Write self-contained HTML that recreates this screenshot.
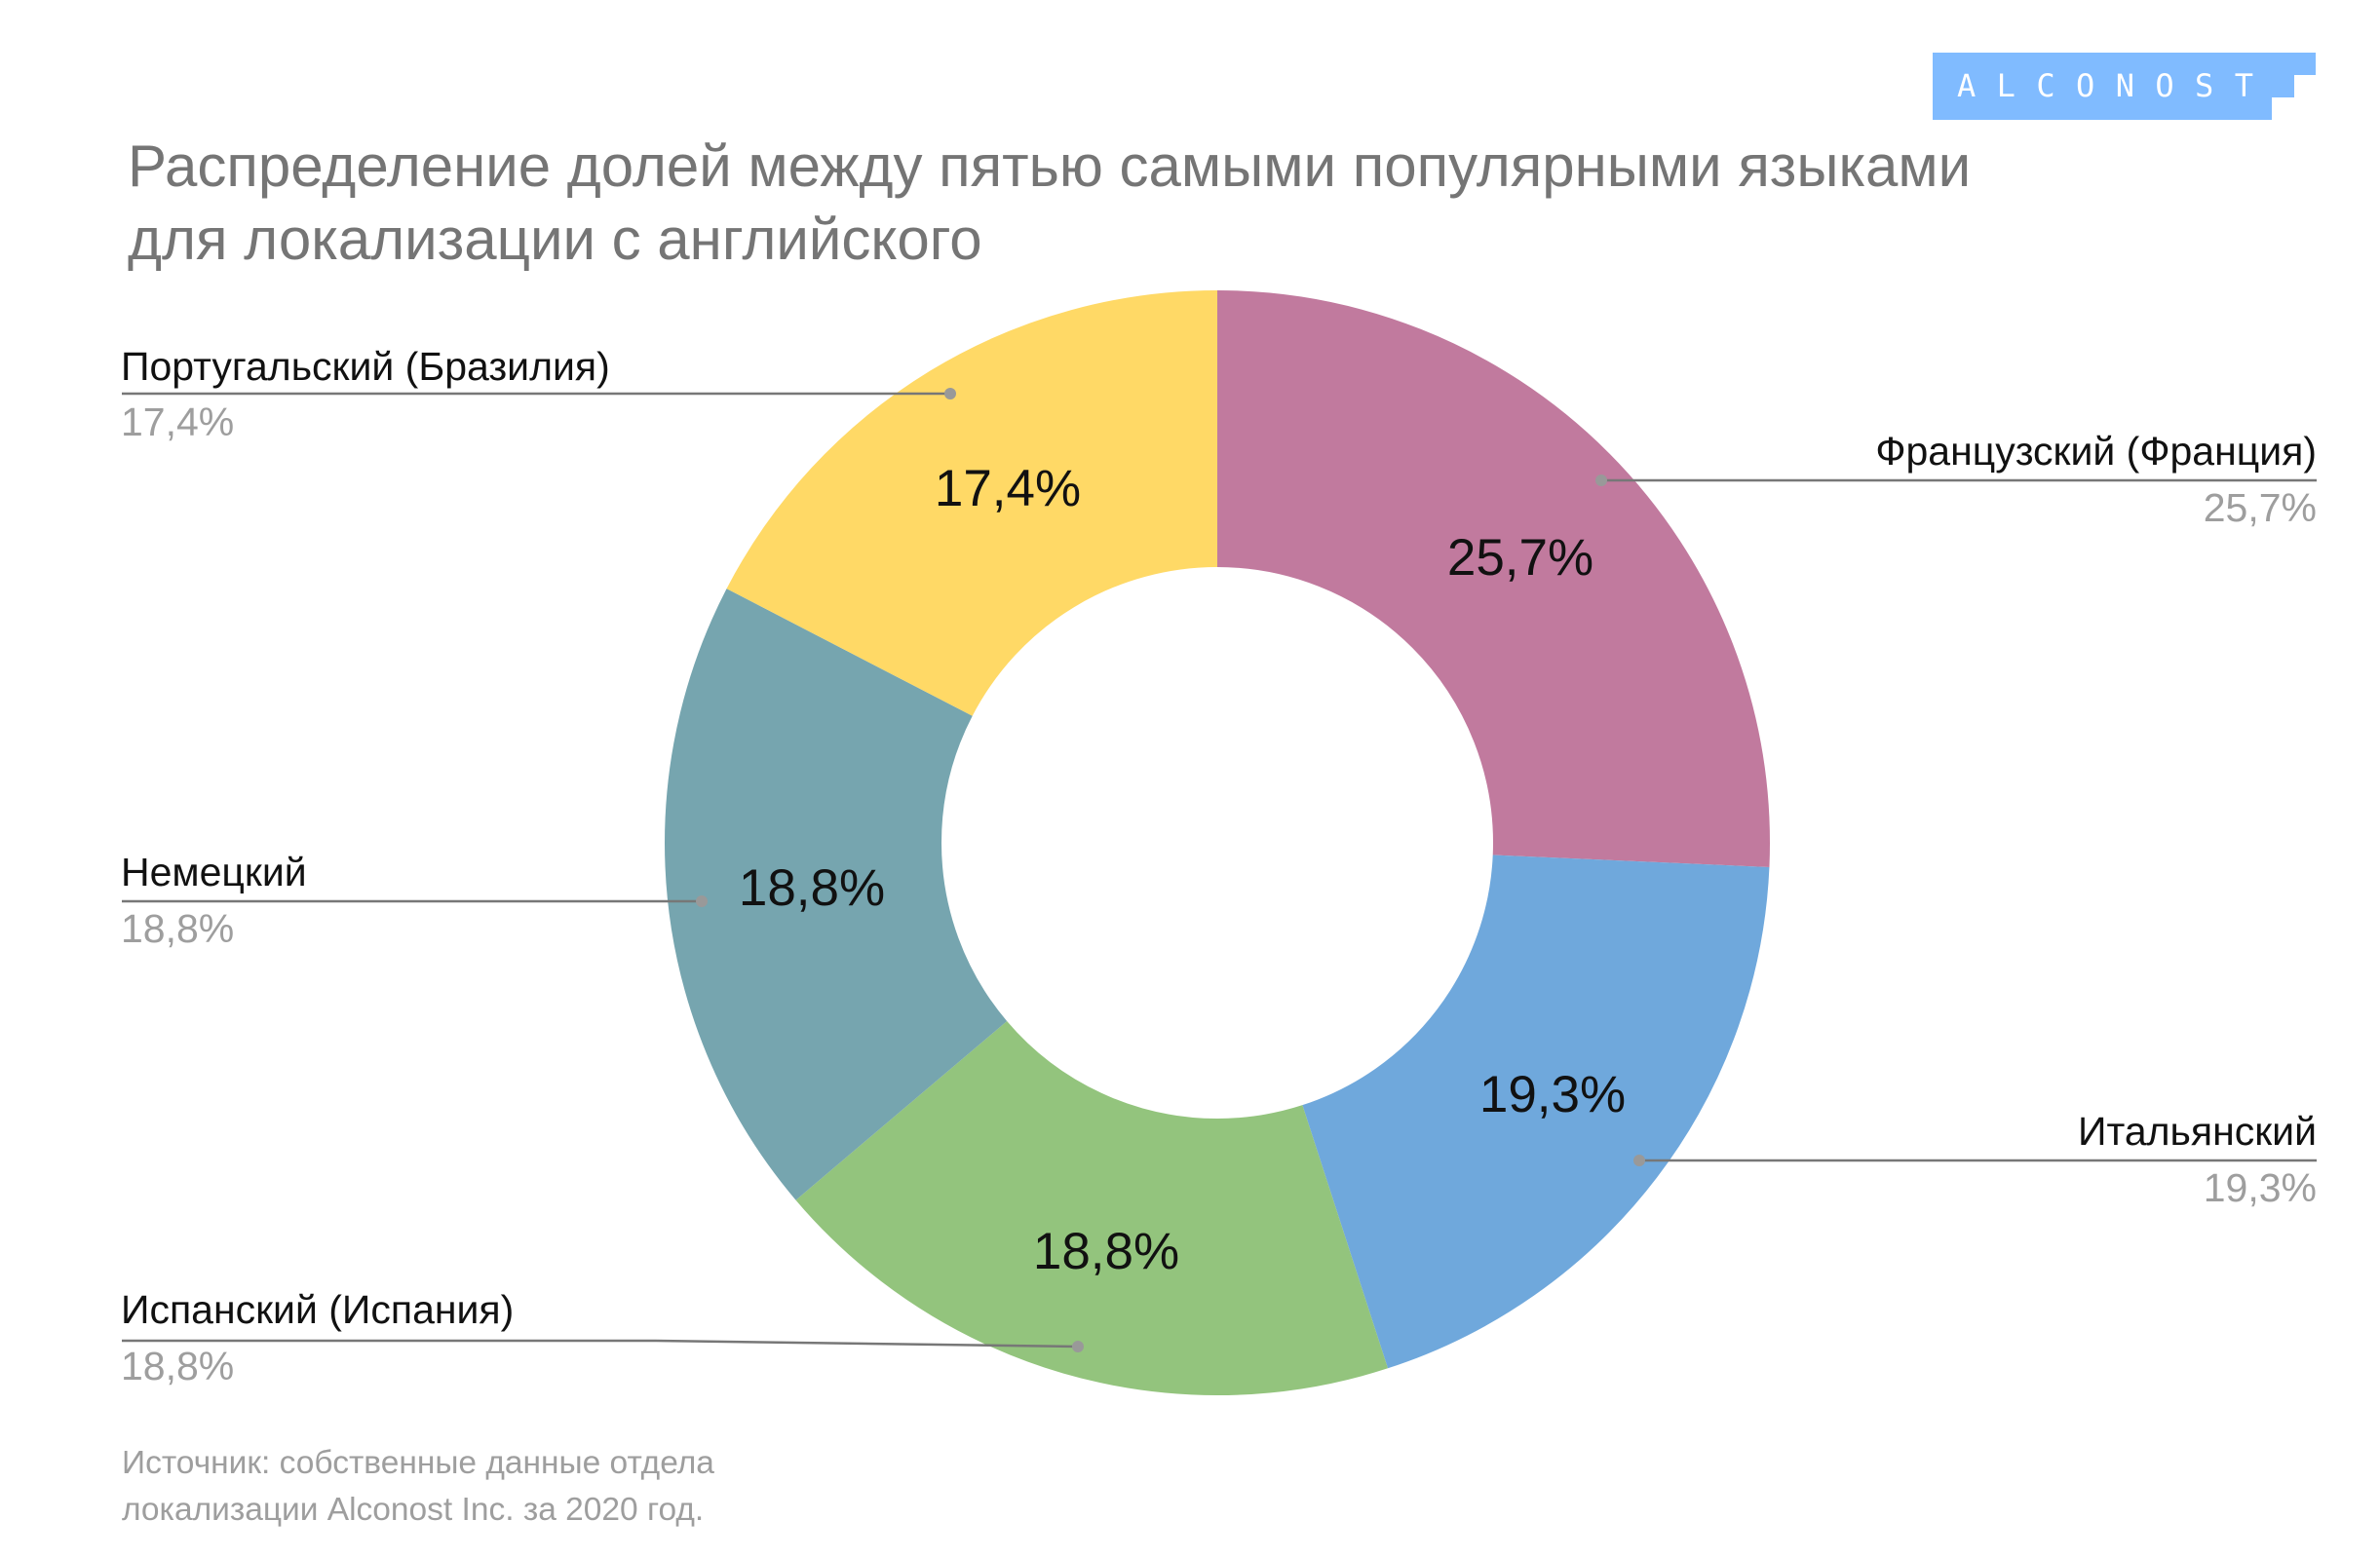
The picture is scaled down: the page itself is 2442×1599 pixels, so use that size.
<!DOCTYPE html>
<html><head><meta charset="utf-8"><style>
html,body{margin:0;padding:0;background:#fff}
svg{display:block}
</style></head><body>
<svg width="2442" height="1599" viewBox="0 0 2442 1599" xmlns="http://www.w3.org/2000/svg" font-family="Liberation Sans, DejaVu Sans, sans-serif">
<rect width="2442" height="1599" fill="#fff"/>
<path d="M1983 54 H2376 V77 H2354 V100 H2331 V123 H1983 Z" fill="#80bbff"/>
<text x="2008" y="99" font-size="32" fill="#fff" font-family="DejaVu Sans Mono, monospace" textLength="304" lengthAdjust="spacing">ALCONOST</text>
<text x="131" y="191" font-size="60" fill="#757575">Распределение долей между пятью самыми популярными языками</text>
<text x="131" y="266" font-size="60" fill="#757575">для локализации с английского</text>
<g transform="rotate(-90 1249 865)" fill="none" stroke-width="284">
<circle cx="1249" cy="865" r="425" stroke="#c17a9e" stroke-dasharray="686.28 2670.35" stroke-dashoffset="0"/>
<circle cx="1249" cy="865" r="425" stroke="#6fa8dc" stroke-dasharray="515.38 2670.35" stroke-dashoffset="-686.28"/>
<circle cx="1249" cy="865" r="425" stroke="#93c47d" stroke-dasharray="502.03 2670.35" stroke-dashoffset="-1201.66"/>
<circle cx="1249" cy="865" r="425" stroke="#76a5af" stroke-dasharray="502.03 2670.35" stroke-dashoffset="-1703.69"/>
<circle cx="1249" cy="865" r="425" stroke="#ffd966" stroke-dasharray="464.64 2670.35" stroke-dashoffset="-2205.72"/>
</g>
<g font-size="53" fill="#111" text-anchor="middle">
<text x="1034" y="519">17,4%</text>
<text x="1560" y="590">25,7%</text>
<text x="833" y="929">18,8%</text>
<text x="1593" y="1141">19,3%</text>
<text x="1135" y="1302">18,8%</text>
</g>
<g stroke="#777" stroke-width="2.5" fill="none">
<line x1="125" y1="404" x2="975" y2="404"/>
<line x1="125" y1="925" x2="720" y2="925"/>
<polyline points="125,1376 673,1376 1106,1382"/>
<line x1="1643" y1="493" x2="2377" y2="493"/>
<line x1="1682" y1="1191" x2="2377" y2="1191"/>
</g>
<g fill="#999">
<circle cx="975" cy="404" r="6"/>
<circle cx="720" cy="925" r="6"/>
<circle cx="1106" cy="1382" r="6"/>
<circle cx="1643" cy="493" r="6"/>
<circle cx="1682" cy="1191" r="6"/>
</g>
<g font-size="41">
<text x="124" y="390" fill="#111">Португальский (Бразилия)</text>
<text x="124" y="447" fill="#9e9e9e">17,4%</text>
<text x="124" y="909" fill="#111">Немецкий</text>
<text x="124" y="967" fill="#9e9e9e">18,8%</text>
<text x="124" y="1358" fill="#111">Испанский (Испания)</text>
<text x="124" y="1416" fill="#9e9e9e">18,8%</text>
<text x="2377" y="477" fill="#111" text-anchor="end">Французский (Франция)</text>
<text x="2377" y="535" fill="#9e9e9e" text-anchor="end">25,7%</text>
<text x="2377" y="1175" fill="#111" text-anchor="end">Итальянский</text>
<text x="2377" y="1233" fill="#9e9e9e" text-anchor="end">19,3%</text>
</g>
<g font-size="33.5" fill="#9e9e9e">
<text x="125" y="1512">Источник: собственные данные отдела</text>
<text x="125" y="1560">локализации Alconost Inc. за 2020 год.</text>
</g>
</svg>
</body></html>
